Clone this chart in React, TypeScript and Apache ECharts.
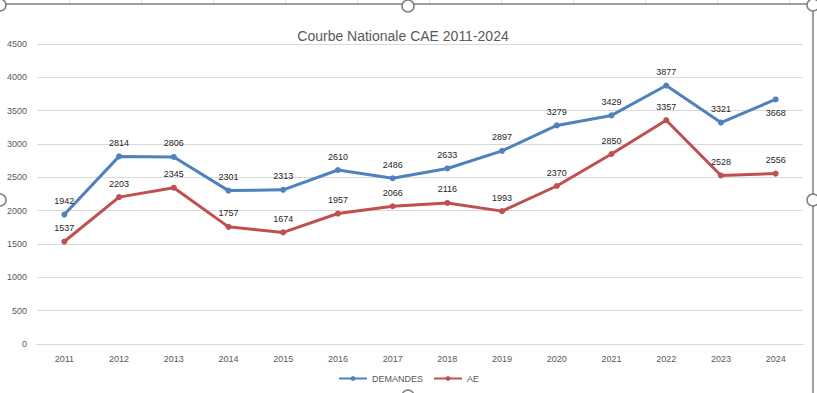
import React, { useEffect, useRef } from "react";
import * as echarts from "echarts";

const years = ["2011","2012","2013","2014","2015","2016","2017","2018","2019","2020","2021","2022","2023","2024"];
const demandes = [1942, 2814, 2806, 2301, 2313, 2610, 2486, 2633, 2897, 3279, 3429, 3877, 3321, 3668];
const ae = [1537, 2203, 2345, 1757, 1674, 1957, 2066, 2116, 1993, 2370, 2850, 3357, 2528, 2556];
const titleText = "Courbe Nationale CAE 2011-2024";

const FONT = "'Liberation Sans Narrow', 'Liberation Sans', Arial, sans-serif";

export default function App() {
  const ref = useRef<HTMLDivElement>(null);
  useEffect(() => {
    if (!ref.current) return;
    const chart = echarts.init(ref.current, undefined, { renderer: "svg" });
    const handle = (x: number, y: number) => ({
      type: "circle",
      shape: { cx: x, cy: y, r: 6 },
      style: { fill: "#fff", stroke: "#7f7f7f", lineWidth: 1.5 },
      z: 100,
    });
    const cellLines = [70, 142, 214, 286, 358, 430, 502, 574, 646, 718, 790].map((x) => ({
      type: "line",
      shape: { x1: x, y1: 0, x2: x, y2: 4 },
      style: { stroke: "#e0e0e0", lineWidth: 1 },
    }));
    chart.setOption({
      animation: false,
      backgroundColor: "#fff",
      textStyle: { fontFamily: FONT },
      title: {
        text: titleText,
        left: 398,
        textAlign: "center",
        top: 24,
        textStyle: { fontSize: 14, fontWeight: "normal", color: "#595959", fontFamily: FONT },
      },
      grid: { left: 37, right: 14, top: 44, bottom: 49, containLabel: false },
      legend: {
        bottom: 5,
        left: "center",
        itemWidth: 28,
        itemHeight: 6,
        itemGap: 10,
        textStyle: { fontSize: 9, color: "#595959", fontFamily: FONT },
        data: ["DEMANDES", "AE"],
      },
      xAxis: {
        type: "category",
        data: years,
        boundaryGap: true,
        axisLine: { lineStyle: { color: "#d9d9d9" } },
        axisTick: { show: false },
        axisLabel: { fontSize: 9, color: "#595959", margin: 10 },
      },
      yAxis: {
        type: "value",
        min: 0,
        max: 4500,
        interval: 500,
        axisLine: { show: false },
        axisTick: { show: false },
        splitLine: { lineStyle: { color: "#d9d9d9" } },
        axisLabel: { fontSize: 9, color: "#595959", margin: 10, formatter: (v: number) => String(v) },
      },
      series: [
        {
          name: "DEMANDES",
          type: "line",
          data: demandes.map((v, i) =>
            i === demandes.length - 1 ? { value: v, label: { position: "bottom" } } : v
          ),
          color: "#4F81BD",
          lineStyle: { width: 3, color: "#4F81BD" },
          symbol: "circle",
          symbolSize: 6,
          itemStyle: { color: "#4F81BD" },
          label: { show: true, position: "top", distance: 6, fontSize: 9, color: "#262626" },
        },
        {
          name: "AE",
          type: "line",
          data: ae,
          color: "#C0504D",
          lineStyle: { width: 3, color: "#C0504D" },
          symbol: "circle",
          symbolSize: 6,
          itemStyle: { color: "#C0504D" },
          label: { show: true, position: "top", distance: 6, fontSize: 9, color: "#262626" },
        },
      ],
      graphic: [
        ...cellLines,
        { type: "line", shape: { x1: 0, y1: 4, x2: 817, y2: 4 }, style: { stroke: "#7f7f7f", lineWidth: 1.5 }, z: 99 },
        { type: "line", shape: { x1: 813, y1: 4, x2: 813, y2: 393 }, style: { stroke: "#7f7f7f", lineWidth: 1.5 }, z: 99 },
        handle(0, 5),
        handle(408, 6),
        handle(813, 5),
        handle(0, 200),
        handle(813, 200),
        handle(408, 396),
      ],
    });
    return () => chart.dispose();
  }, []);
  return <div ref={ref} style={{ position: "fixed", left: 0, top: 0, width: 817, height: 393 }} />;
}
